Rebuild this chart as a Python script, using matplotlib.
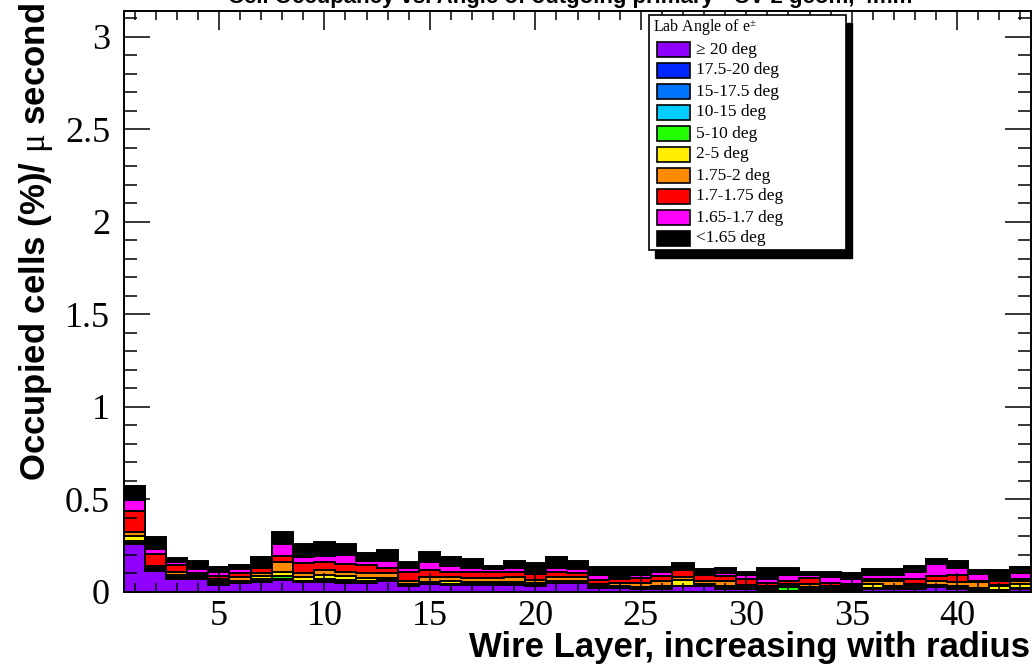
import numpy as np
import matplotlib
matplotlib.use("Agg")
import matplotlib.pyplot as plt
from matplotlib.ticker import MultipleLocator, FuncFormatter
from matplotlib.patches import Rectangle

plt.rcParams["mathtext.fontset"] = "custom"
plt.rcParams["mathtext.rm"] = "Liberation Serif"
plt.rcParams["mathtext.it"] = "Liberation Serif"

# wire layers 1..43, occupancy per angle class (stacked, bottom to top)
layers = np.arange(1, 44)

purple = [0.26, 0.115, 0.07, 0.07, 0.04, 0.047, 0.056, 0.065, 0.056, 0.056,
          0.05, 0.05, 0.06, 0.035, 0.043, 0.04, 0.038, 0.038, 0.038, 0.035,
          0.05, 0.048, 0.02, 0.02, 0.015, 0.015, 0.03, 0.032, 0.018, 0.015,
          0.005, 0.005, 0.008, 0.008, 0.005, 0.018, 0.018, 0.018, 0.029, 0.018,
          0.005, 0.005, 0.018]
blue = [0.001, 0.001, 0.001, 0.001, 0.001, 0.001, 0.001, 0.001, 0.001, 0.001,
        0.001, 0.001, 0.001, 0.001, 0.001, 0.001, 0.001, 0.001, 0.001, 0.001,
        0.001, 0.001, 0.001, 0.001, 0.001, 0.001, 0.001, 0.001, 0.001, 0.001,
        0.001, 0.001, 0.001, 0.001, 0.001, 0.001, 0.001, 0.001, 0.001, 0.001,
        0.001, 0.001, 0.001]
azure = [0.001, 0.001, 0.001, 0.001, 0.001, 0.001, 0.001, 0.001, 0.001, 0.001,
         0.001, 0.001, 0.001, 0.001, 0.001, 0.001, 0.001, 0.001, 0.001, 0.001,
         0.001, 0.001, 0.001, 0.001, 0.001, 0.001, 0.001, 0.001, 0.001, 0.001,
         0.001, 0.001, 0.001, 0.001, 0.001, 0.001, 0.001, 0.001, 0.001, 0.001,
         0.001, 0.001, 0.001]
cyan = [0.001, 0.001, 0.001, 0.001, 0.001, 0.001, 0.001, 0.001, 0.001, 0.001,
        0.001, 0.001, 0.001, 0.001, 0.001, 0.001, 0.001, 0.001, 0.001, 0.001,
        0.001, 0.001, 0.001, 0.001, 0.001, 0.001, 0.001, 0.001, 0.001, 0.001,
        0.001, 0.001, 0.001, 0.001, 0.001, 0.001, 0.001, 0.001, 0.001, 0.001,
        0.001, 0.001, 0.001]
green = [0.014, 0.007, 0.007, 0.002, 0.007, 0.005, 0.011, 0.017, 0.003, 0.009,
         0.012, 0.007, 0.005, 0.002, 0.004, 0.002, 0.004, 0.004, 0.004, 0.002,
         0.002, 0.001, 0.002, 0.002, 0.002, 0.002, 0.002, 0.003, 0.001, 0.002,
         0.002, 0.021, 0.004, 0.004, 0.002, 0.001, 0.001, 0.001, 0.001, 0.001,
         0.002, 0.002, 0.001]
yellow = [0.023, 0.005, 0.01, 0.01, 0.01, 0.007, 0.015, 0.025, 0.021, 0.022,
          0.02, 0.015, 0.007, 0.005, 0.005, 0.016, 0.01, 0.007, 0.01, 0.01,
          0.005, 0.006, 0.005, 0.005, 0.008, 0.01, 0.03, 0.007, 0.008, 0.005,
          0.01, 0.006, 0.01, 0.007, 0.01, 0.02, 0.008, 0.008, 0.007, 0.008,
          0.01, 0.022, 0.02]
orange = [0.024, 0.01, 0.02, 0.01, 0.009, 0.017, 0.016, 0.05, 0.021, 0.028,
          0.025, 0.025, 0.026, 0.016, 0.028, 0.019, 0.019, 0.022, 0.024, 0.015,
          0.02, 0.022, 0.015, 0.02, 0.022, 0.031, 0.015, 0.016, 0.031, 0.015,
          0.01, 0.01, 0.02, 0.013, 0.01, 0.019, 0.031, 0.015, 0.021, 0.022,
          0.032, 0.008, 0.019]
red = [0.116, 0.065, 0.036, 0.006, 0.017, 0.021, 0.027, 0.036, 0.051, 0.046,
       0.041, 0.046, 0.027, 0.045, 0.036, 0.03, 0.036, 0.036, 0.027, 0.03,
       0.026, 0.021, 0.02, 0.02, 0.024, 0.024, 0.039, 0.031, 0.024, 0.029,
       0.017, 0.015, 0.029, 0.012, 0.015, 0.009, 0.009, 0.024, 0.024, 0.04,
       0.008, 0.021, 0.009]
magenta = [0.057, 0.026, 0.018, 0.022, 0.024, 0.023, 0.002, 0.062, 0.036, 0.031,
           0.049, 0.023, 0.041, 0.022, 0.041, 0.03, 0.018, 0.013, 0.022, 0.015,
           0.022, 0.022, 0.027, 0.009, 0.018, 0.025, 0.003, 0.003, 0.016, 0.023,
           0.022, 0.032, 0.018, 0.033, 0.024, 0.022, 0.022, 0.041, 0.065, 0.036,
           0.036, 0.004, 0.031]
black = [0.076, 0.065, 0.018, 0.046, 0.027, 0.023, 0.058, 0.068, 0.067, 0.074,
         0.06, 0.04, 0.058, 0.036, 0.058, 0.051, 0.05, 0.017, 0.041, 0.048,
         0.063, 0.046, 0.045, 0.058, 0.041, 0.023, 0.036, 0.028, 0.027, 0.018,
         0.059, 0.036, 0.018, 0.03, 0.032, 0.031, 0.031, 0.03, 0.028, 0.041,
         0.023, 0.054, 0.036]

labels = ["\u2265 20 deg", "17.5-20 deg", "15-17.5 deg", "10-15 deg", "5-10 deg",
          "2-5 deg", "1.75-2 deg", "1.7-1.75 deg", "1.65-1.7 deg", "<1.65 deg"]
colors = ["#8f00ff", "#0026ff", "#0073ff", "#00ccff", "#22ff00",
          "#ffee00", "#ff8c00", "#ff0000", "#ff00ff", "#000000"]
series = [purple, blue, azure, cyan, green, yellow, orange, red, magenta, black]

W, H = 1034, 667
fig = plt.figure(figsize=(W / 100, H / 100), dpi=100)
ax = fig.add_axes([124 / W, 1 - 592 / H, (1031 - 124) / W, (592 - 11) / H])

edges = np.append(layers - 0.5, layers[-1] + 0.5)
cum = np.cumsum(np.array(series), axis=0)
# ROOT-style stack: draw the total first, then each partial sum on top
for i in range(len(series) - 1, -1, -1):
    ax.stairs(cum[i], edges, baseline=0, fill=True, facecolor=colors[i],
              edgecolor="black", linewidth=1.4)

ax.set_xlim(0.5, 43.5)
ax.set_ylim(0, 3.14)
ax.xaxis.set_major_locator(MultipleLocator(5))
ax.xaxis.set_minor_locator(MultipleLocator(1))
ax.yaxis.set_major_locator(MultipleLocator(0.5))
ax.yaxis.set_minor_locator(MultipleLocator(0.1))
ax.yaxis.set_major_formatter(FuncFormatter(lambda v, p: f"{v:g}"))

ax.tick_params(axis="both", which="both", direction="in", top=True, right=True,
               width=1.1, labelsize=26)
ax.tick_params(axis="x", which="major", length=13.5, pad=6)
ax.tick_params(axis="x", which="minor", length=6.5)
ax.tick_params(axis="y", which="major", length=19, pad=10)
ax.tick_params(axis="y", which="minor", length=9.5)
for lab in ax.get_xticklabels() + ax.get_yticklabels():
    lab.set_fontfamily("Liberation Serif")
for s in ax.spines.values():
    s.set_linewidth(1.4)

fig.text(1030 / W, 1 - 657 / H, "Wire Layer, increasing with radius",
         ha="right", va="baseline", fontsize=25, fontweight="bold",
         family="Liberation Sans")
fig.text(17 / W, 1 - 3 / H, r"Occupied cells (%)/ $\mathrm{\mu}$ second",
         rotation=90, ha="left", va="top", fontsize=25, fontweight="bold",
         family="Liberation Sans")
fig.text(570 / W, 1 - 3 / H,
         "Cell Occupancy vs. Angle of outgoing primary - CV-2 geom, 4mm",
         ha="center", va="baseline", fontsize=16, fontweight="bold",
         family="Liberation Sans")


def px(x, y):
    return (x / W, 1 - y / H)


# legend box with shadow
tf = fig.transFigure
fig.patches.append(Rectangle(px(655, 258), 197 / W, 235 / H, transform=tf,
                             facecolor="black", edgecolor="black", zorder=5))
fig.patches.append(Rectangle(px(649, 250), 197 / W, 235 / H, transform=tf,
                             facecolor="white", edgecolor="black",
                             linewidth=1.2, zorder=6))
fig.text(653 / W, 1 - 28 / H, r"Lab Angle of e$^{\pm}$", ha="left",
         va="center", fontsize=11.5, family="Liberation Serif", zorder=7)
for k, (lab, col) in enumerate(zip(labels, colors)):
    yc = 49.5 + k * 21.0
    fig.patches.append(Rectangle(px(657, yc + 7.5), 33 / W, 15 / H,
                                 transform=tf, facecolor=col,
                                 edgecolor="black", linewidth=1.2, zorder=7))
    fig.text(696 / W, 1 - yc / H, lab, ha="left", va="center", fontsize=12.5,
             family=["Liberation Serif", "DejaVu Serif"], zorder=7)

fig.savefig("out.png", dpi=100)
